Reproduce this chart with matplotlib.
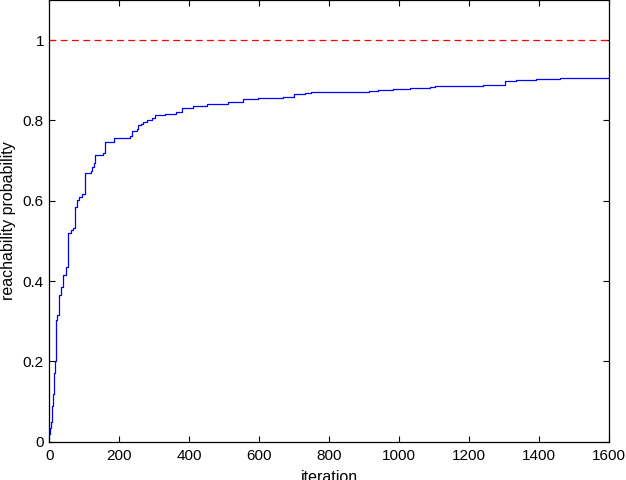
import matplotlib
matplotlib.use("Agg")
import matplotlib.pyplot as plt

# jump positions (iteration) and reachability probability after each jump
iterations = [0, 2, 4, 6, 8, 10, 12, 14, 16, 18, 23, 27, 33, 39, 46, 54, 61, 68, 74, 78,
              85, 94, 101, 103, 118, 122, 128, 130, 154, 158, 185, 230, 235, 249, 254,
              262, 268, 278, 292, 301, 330, 363, 378, 411, 449, 511, 554, 597, 668, 699,
              730, 749, 849, 914, 940, 982, 1030, 1087, 1101, 1181, 1240, 1301, 1335,
              1392, 1460, 1544, 1600]
probability = [0.02, 0.035, 0.05, 0.07, 0.09, 0.12, 0.14, 0.17, 0.2, 0.303, 0.315, 0.365,
               0.386, 0.415, 0.436, 0.519, 0.527, 0.532, 0.585, 0.602, 0.61, 0.616,
               0.627, 0.669, 0.673, 0.685, 0.693, 0.714, 0.718, 0.747, 0.757, 0.762,
               0.773, 0.778, 0.789, 0.792, 0.797, 0.802, 0.807, 0.813, 0.816, 0.82,
               0.83, 0.836, 0.841, 0.845, 0.853, 0.855, 0.859, 0.866, 0.868, 0.87,
               0.871, 0.874, 0.877, 0.879, 0.881, 0.884, 0.885, 0.887, 0.888, 0.899,
               0.901, 0.903, 0.905, 0.906, 0.908]
reference_level = 1.0

plt.rcParams['font.family'] = ['Liberation Sans', 'DejaVu Sans']
plt.rcParams['font.size'] = 11.5

fig = plt.figure(figsize=(6.26, 4.8), dpi=100)
ax = fig.add_axes([0.079, 0.0798, 0.894, 0.9202])

ax.plot(iterations, probability, color=(0, 0, 1), lw=0.9, drawstyle='steps-post')
ax.axhline(reference_level, color=(1, 0, 0), lw=0.9, dashes=(5.5, 3.5))

ax.set_xlim(0, 1600)
ax.set_ylim(0, 1.1)
ax.set_xticks(range(0, 1601, 200))
ax.set_yticks([0, 0.2, 0.4, 0.6, 0.8, 1])
ax.set_yticklabels(['0', '0.2', '0.4', '0.6', '0.8', '1'])
ax.tick_params(direction='in', top=True, right=True, length=4, width=0.8, labelsize=11)
ax.tick_params(axis='x', pad=5)
ax.tick_params(axis='y', pad=4)
for s in ax.spines.values():
    s.set_linewidth(0.9)
ax.set_xlabel('iteration', labelpad=5)
ax.set_ylabel('reachability probability', labelpad=5)

fig.savefig('out.png', dpi=100)
